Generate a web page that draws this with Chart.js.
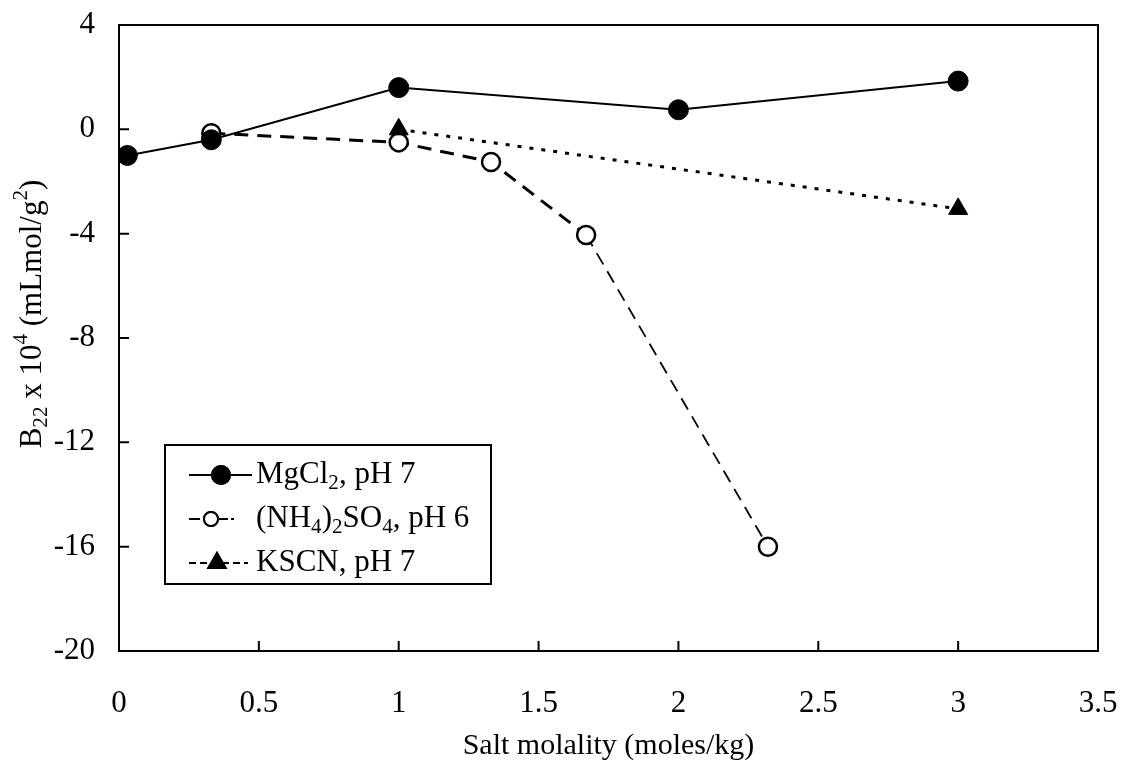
<!DOCTYPE html>
<html>
<head>
<meta charset="utf-8">
<script src="https://cdn.jsdelivr.net/npm/chart.js@4.4.0/dist/chart.umd.min.js"></script>
<style>
  html, body { margin: 0; padding: 0; background: #fff; }
  #wrap { width: 1132px; height: 770px; }
</style>
</head>
<body>
<div id="wrap"><canvas id="b22Chart"></canvas></div>
<script>
// values (B22 x 10^4 vs salt molality)
let mgcl2X = [0.03, 0.33, 1.0, 2.0, 3.0];
let mgcl2Y = [-1.0, -0.4, 1.6, 0.75, 1.85];

let nh4X = [0.33, 1.0, 1.33, 1.67, 2.32];
let nh4Y = [-0.15, -0.5, -1.25, -4.05, -16.0];

let kscnX = [1.0, 3.0];
let kscnY = [0.0, -3.05];

let xTickLabels = ['0', '0.5', '1', '1.5', '2', '2.5', '3', '3.5'];
let yTickLabels = ['-20', '-16', '-12', '-8', '-4', '0', '4'];

const serif = '"Liberation Serif", "Times New Roman", serif';

function toPoints(xs, ys) {
  return xs.map((x, i) => ({ x: x, y: ys[i] }));
}

// draw text with sub/superscripts, returns end x
function drawRich(ctx, parts, x, y, size) {
  for (const [t, k] of parts) {
    let s = k ? size * 0.68 : size;
    ctx.font = s + 'px ' + serif;
    let dy = k === 'sub' ? size * 0.27 : k === 'sup' ? -size * 0.36 : 0;
    ctx.fillText(t, x, y + dy);
    x += ctx.measureText(t).width;
  }
  return x;
}

function richWidth(ctx, parts, size) {
  let w = 0;
  for (const [t, k] of parts) {
    ctx.font = (k ? size * 0.68 : size) + 'px ' + serif;
    w += ctx.measureText(t).width;
  }
  return w;
}

let legendRows = [
  { parts: [['MgCl', ''], ['2', 'sub'], [', pH 7', '']], ds: 0, x0: 189, x1: 252, mx: 221, dash: [] },
  { parts: [['(NH', ''], ['4', 'sub'], [')', ''], ['2', 'sub'], ['SO', ''], ['4', 'sub'], [', pH 6', '']], ds: 1, x0: 189, x1: 234, mx: 211, dash: [11, 3] },
  { parts: [['KSCN, pH 7', '']], ds: 2, x0: 189, x1: 248, mx: 217, dash: [7, 4] },
];

let yTitle = [['B', ''], ['22', 'sub'], [' x 10', ''], ['4', 'sup'], [' (mLmol/g', ''], ['2', 'sup'], [')', '']];

// frame, inward ticks, y title and legend box
const decorations = {
  id: 'decorations',
  afterDraw(chart) {
    const ctx = chart.ctx;
    const a = chart.chartArea;
    const xs = chart.scales.x;
    const ys = chart.scales.y;
    ctx.save();
    ctx.strokeStyle = '#000';
    ctx.lineWidth = 2;
    ctx.strokeRect(a.left, a.top, a.right - a.left, a.bottom - a.top);

    ctx.beginPath();
    xs.ticks.forEach((t, i) => {
      let px = xs.getPixelForTick(i);
      ctx.moveTo(px, a.bottom);
      ctx.lineTo(px, a.bottom - 10);
    });
    ys.ticks.forEach((t, i) => {
      let py = ys.getPixelForTick(i);
      ctx.moveTo(a.left, py);
      ctx.lineTo(a.left + 10, py);
    });
    ctx.stroke();

    // y axis title
    ctx.fillStyle = '#000';
    ctx.textBaseline = 'middle';
    ctx.textAlign = 'left';
    ctx.save();
    ctx.translate(33, 314);
    ctx.rotate(-Math.PI / 2);
    let w = richWidth(ctx, yTitle, 31);
    drawRich(ctx, yTitle, -w / 2, 0, 31);
    ctx.restore();

    // legend
    ctx.fillStyle = '#fff';
    ctx.fillRect(165, 445, 326, 139);
    ctx.lineWidth = 2;
    ctx.strokeRect(165, 445, 326, 139);
    legendRows.forEach((row, i) => {
      let y = 475 + i * 44;
      let ds = chart.data.datasets[row.ds];
      ctx.save();
      ctx.strokeStyle = '#000';
      ctx.lineWidth = 2;
      ctx.setLineDash(row.dash);
      ctx.beginPath();
      ctx.moveTo(row.x0, y);
      ctx.lineTo(row.x1, y);
      ctx.stroke();
      ctx.restore();
      Chart.helpers.drawPoint(ctx, {
        pointStyle: ds.pointStyle,
        radius: row.ds === 1 ? 7 : row.ds === 2 ? 10 : 9,
        borderWidth: 2,
      }, row.mx, y);
      ctx.fillStyle = ds.pointBackgroundColor;
      ctx.strokeStyle = '#000';
      ctx.lineWidth = 2;
      ctx.fill();
      ctx.stroke();
      ctx.fillStyle = '#000';
      drawRich(ctx, row.parts, 256, y, 31);
    });
    ctx.restore();
  },
};

let ctx = document.getElementById('b22Chart').getContext('2d');
let b22Chart = new Chart(ctx, {
  type: 'scatter',
  data: {
    datasets: [
      {
        label: 'MgCl2, pH 7',
        data: toPoints(mgcl2X, mgcl2Y),
        showLine: true,
        borderColor: '#000',
        borderWidth: 2,
        pointStyle: 'circle',
        pointRadius: 10,
        pointBackgroundColor: '#000',
        pointBorderColor: '#000',
        pointBorderWidth: 1,
        order: 1,
      },
      {
        label: '(NH4)2SO4, pH 6',
        data: toPoints(nh4X, nh4Y),
        showLine: true,
        borderColor: '#000',
        borderWidth: 3,
        borderDash: [14, 9],
        segment: {
          borderWidth: c => (c.p0DataIndex === 3 ? 1.8 : undefined),
          borderDash: c => (c.p0DataIndex === 3 ? [13, 8] : undefined),
        },
        pointStyle: 'circle',
        pointRadius: 9,
        pointBackgroundColor: '#fff',
        pointBorderColor: '#000',
        pointBorderWidth: 2.5,
        order: 2,
      },
      {
        label: 'KSCN, pH 7',
        data: toPoints(kscnX, kscnY),
        showLine: true,
        borderColor: '#000',
        borderWidth: 3,
        borderDash: [4, 8],
        pointStyle: 'triangle',
        pointRadius: 11,
        pointBackgroundColor: '#000',
        pointBorderColor: '#000',
        pointBorderWidth: 1,
        order: 0,
      },
    ],
  },
  options: {
    responsive: true,
    maintainAspectRatio: false,
    animation: false,
    layout: { padding: { top: 25, right: 34, left: 0, bottom: 0 } },
    plugins: {
      legend: { display: false },
      tooltip: { enabled: false },
    },
    scales: {
      x: {
        type: 'linear',
        min: 0,
        max: 3.5,
        grid: { display: false },
        border: { display: false },
        ticks: {
          stepSize: 0.5,
          padding: 26,
          maxRotation: 0,
          color: '#000',
          font: { family: serif, size: 31 },
          callback: (v, i) => xTickLabels[i],
        },
        title: {
          display: true,
          text: 'Salt molality (moles/kg)',
          color: '#000',
          font: { family: serif, size: 30 },
          padding: { top: 0, bottom: 6 },
        },
        afterFit: s => {
          s.height = 119;
          s.paddingLeft = 0;
          s.paddingRight = 0;
        },
      },
      y: {
        type: 'linear',
        min: -20,
        max: 4,
        grid: { display: false },
        border: { display: false },
        ticks: {
          stepSize: 4,
          padding: 16,
          color: '#000',
          font: { family: serif, size: 31 },
          callback: (v, i) => yTickLabels[i],
        },
        afterFit: s => {
          s.width = 119;
          s.paddingTop = 0;
          s.paddingBottom = 0;
        },
      },
    },
  },
  plugins: [decorations],
});
</script>
</body>
</html>
